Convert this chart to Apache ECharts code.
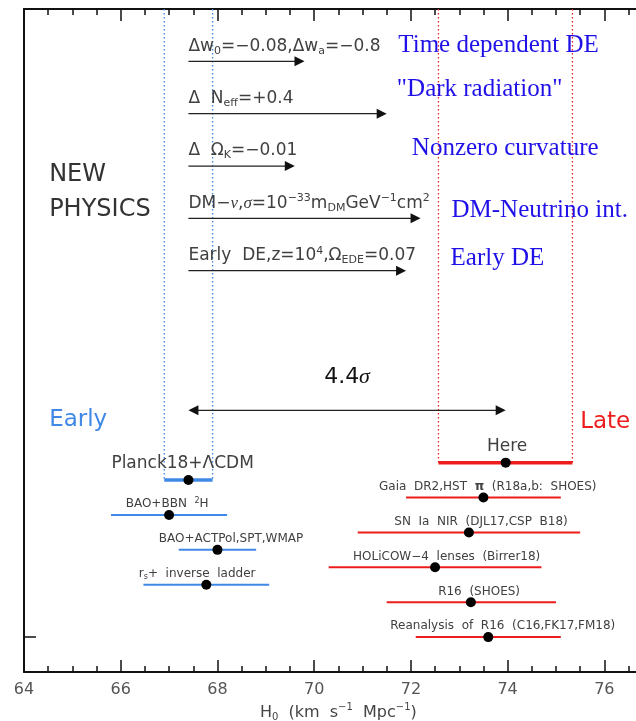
<!DOCTYPE html>
<html>
<head>
<meta charset="utf-8">
<script src="https://cdn.jsdelivr.net/npm/echarts@6/dist/echarts.min.js"></script>
<style>
  html, body { margin: 0; background: #fff; }
  #c { width: 636px; height: 721px; }
</style>
</head>
<body>
<div id="c"></div>
<script>
// early universe measurements (H0, error bar ends, row)
var earlyNames = ['Planck18+ΛCDM', 'BAO+BBN  {p|2}H', 'BAO+ACTPol,SPT,WMAP', 'r{s|s}+  inverse  ladder'];
var earlyH0 = [67.4, 67.0, 68.0, 67.77];
var earlyLo = [66.9, 65.8, 67.2, 66.47];
var earlyHi = [67.9, 68.2, 68.8, 69.07];
var earlyRow = [11, 9, 7, 5];

// late universe measurements
var lateNames = ['Here', 'Gaia  DR2,HST  {b|π}  (R18a,b:  SHOES)', 'SN  Ia  NIR  (DJL17,CSP  B18)',
  'HOLiCOW−4  lenses  (Birrer18)', 'R16  (SHOES)', 'Reanalysis  of  R16  (C16,FK17,FM18)'];
var lateH0 = [73.96, 73.5, 73.2, 72.5, 73.24, 73.6];
var lateLo = [72.57, 71.9, 70.9, 70.3, 71.5, 72.1];
var lateHi = [75.34, 75.1, 75.5, 74.7, 75.0, 75.1];
var lateRow = [12, 10, 8, 6, 4, 2];

// new physics shifts starting from Planck
var physicsFormula = [
  'Δw{s|0}=−0.08,Δw{s|a}=−0.8',
  'Δ  N{s|eff}=+0.4',
  'Δ  Ω{s|K}=−0.01',
  'DM−{i|ν},{i|σ}=10{p|−33}m{s|DM}GeV{p|−1}cm{p|2}',
  'Early  DE,z=10{p|4},Ω{s|EDE}=0.07'
];
var physicsNames = ['Time dependent DE', '"Dark radiation"', 'Nonzero curvature', 'DM-Neutrino int.', 'Early DE'];
var physicsH0 = [69.8, 71.5, 69.6, 72.2, 71.9];
var physicsRow = [35, 32, 29, 26, 23];

var tensionText = '4.4{i|σ}';
var tensionRow = 15;
var xTicks = [64, 66, 68, 70, 72, 74, 76];

// label placement (data coords)
var earlyLabelX = [67.28, 66.96, 68.28, 67.58];
var lateLabelX = [73.99, 73.59, 73.45, 72.74, 73.41, 73.9];
var nameAt = [[71.74, 35.93], [71.71, 33.39], [72.02, 30.01], [72.84, 26.44], [72.82, 23.71]];

var BLUE = '#3f88e6', RED = '#ee1c1c', INK = '#111', GRAY = '#404040';

var chart = echarts.init(document.getElementById('c'));

function rich(size) {
  var small = Math.round(size * 0.65);
  return {
    s: { fontSize: small, verticalAlign: 'bottom', lineHeight: size * 1.2 },
    p: { fontSize: small, verticalAlign: 'top', lineHeight: size * 1.2 },
    i: { fontSize: size, fontStyle: 'italic', fontFamily: 'Liberation Serif' },
    b: { fontSize: size, fontWeight: 'bold' }
  };
}

function note(text, x, y, size, color, left, family) {
  return {
    value: [x, y],
    label: {
      show: true,
      formatter: text,
      position: left ? 'right' : 'inside',
      distance: 0,
      fontSize: size,
      color: color,
      fontFamily: family || 'DejaVu Sans',
      rich: rich(size)
    }
  };
}

var notes = [];
earlyNames.forEach(function (t, i) {
  notes.push(note(t, earlyLabelX[i], earlyRow[i] + (i === 0 ? 0.92 : 0.63), i === 0 ? 17 : 12, GRAY));
});
lateNames.forEach(function (t, i) {
  notes.push(note(t, lateLabelX[i], lateRow[i] + (i === 0 ? 0.91 : 0.62), i === 0 ? 17 : 12, GRAY));
});
physicsFormula.forEach(function (t, i) {
  notes.push(note(t, earlyH0[0], physicsRow[i] + 0.87, 17, GRAY, true));
});
physicsNames.forEach(function (t, i) {
  notes.push(note(t, nameAt[i][0], nameAt[i][1], 25, '#1f10e8', true, 'Liberation Serif'));
});
notes.push(note('NEW', 64.52, 28.48, 24, '#333', true));
notes.push(note('PHYSICS', 64.52, 26.48, 24, '#333', true));
notes.push(note('Early', 64.52, 14.44, 23, BLUE, true));
notes.push(note('Late', 75.5, 14.34, 23, RED, true));
notes.push(note(tensionText, (earlyH0[0] + lateH0[0]) / 2, 16.9, 22, '#111'));

function barData(h0, lo, hi, row) {
  return h0.map(function (v, i) { return [v, lo[i], hi[i], row[i], i]; });
}

function barSeries(data, color) {
  return {
    type: 'custom',
    data: data,
    encode: { x: [1, 2], y: 3 },
    z: 3,
    renderItem: function (params, api) {
      var a = api.coord([api.value(1), api.value(3)]);
      var b = api.coord([api.value(2), api.value(3)]);
      return {
        type: 'line',
        shape: { x1: a[0], y1: a[1], x2: b[0], y2: b[1] },
        style: { stroke: color, lineWidth: api.value(4) === 0 ? 3.5 : 2 }
      };
    }
  };
}

// arrows: [start, end, row, doubleHeaded]
var arrowData = physicsH0.map(function (v, i) { return [earlyH0[0], v, physicsRow[i], 0]; });
arrowData.push([earlyH0[0], lateH0[0], tensionRow, 1]);

function head(tip, dir) {
  var L = 10, H = 5;
  return {
    type: 'polygon',
    shape: { points: [[tip[0], tip[1]], [tip[0] - dir * L, tip[1] - H], [tip[0] - dir * L, tip[1] + H]] },
    style: { fill: INK }
  };
}

// dotted guides: [x, rowFrom, rowTo, colour]
var guideData = [
  [earlyLo[0], 38, earlyRow[0], 0], [earlyHi[0], 38, earlyRow[0], 0],
  [lateLo[0], 38, lateRow[0], 1], [lateHi[0], 38, lateRow[0], 1]
];

var dots = earlyH0.map(function (v, i) { return [v, earlyRow[i]]; })
  .concat(lateH0.map(function (v, i) { return [v, lateRow[i]]; }));

function xAxisBase(pos, interval, len, main) {
  return {
    type: 'value', position: pos, min: 64, max: 77, interval: interval,
    axisLine: { show: main, onZero: false, lineStyle: { color: INK, width: 2 } },
    axisTick: { show: true, inside: true, length: len, lineStyle: { color: INK, width: 1.5 } },
    axisLabel: { show: false },
    splitLine: { show: false }
  };
}

var xMain = xAxisBase('bottom', 2, 12, true);
xMain.axisLabel = {
  show: true, margin: 10, color: '#555', fontSize: 16, fontFamily: 'DejaVu Sans',
  showMaxLabel: false,
  formatter: function (v) { return xTicks.indexOf(v) >= 0 ? String(v) : ''; }
};
xMain.name = 'H{s|0}  (km  s{p|−1}  Mpc{p|−1})';
xMain.nameLocation = 'middle';
xMain.nameGap = 29;
xMain.nameTextStyle = { color: '#444', fontSize: 16, fontFamily: 'DejaVu Sans', rich: rich(16) };

var option = {
  animation: false,
  backgroundColor: '#fff',
  grid: { left: 24, right: -16.7, top: 9, bottom: 49, outerBoundsMode: 'none', containLabel: false },
  xAxis: [
    xMain,
    xAxisBase('bottom', 0.5, 6, false),
    xAxisBase('top', 2, 12, true),
    xAxisBase('top', 0.5, 6, false)
  ],
  yAxis: {
    type: 'value', min: 0, max: 38,
    axisLine: { show: true, lineStyle: { color: INK, width: 2 } },
    axisTick: { show: true, inside: true, length: 12, customValues: [lateRow[5]], lineStyle: { color: INK, width: 1.5 } },
    axisLabel: { show: false },
    splitLine: { show: false }
  },
  series: [
    {
      type: 'custom',
      data: guideData,
      encode: { x: 0, y: [1, 2] },
      z: 1,
      renderItem: function (params, api) {
        var a = api.coord([api.value(0), api.value(1)]);
        var b = api.coord([api.value(0), api.value(2)]);
        return {
          type: 'line',
          shape: { x1: a[0], y1: a[1], x2: b[0], y2: b[1] },
          style: { stroke: api.value(3) === 0 ? BLUE : RED, lineWidth: 1.3, lineDash: [1.5, 2.5] }
        };
      }
    },
    barSeries(barData(earlyH0, earlyLo, earlyHi, earlyRow), BLUE),
    barSeries(barData(lateH0, lateLo, lateHi, lateRow), RED),
    {
      type: 'custom',
      data: arrowData,
      encode: { x: [0, 1], y: 2 },
      z: 3,
      renderItem: function (params, api) {
        var a = api.coord([api.value(0), api.value(2)]);
        var b = api.coord([api.value(1), api.value(2)]);
        var both = api.value(3) === 1;
        var kids = [
          { type: 'line', shape: { x1: both ? a[0] + 8 : a[0], y1: a[1], x2: b[0] - 8, y2: b[1] },
            style: { stroke: '#222', lineWidth: 1.2 } },
          head(b, 1)
        ];
        if (both) kids.push(head(a, -1));
        return { type: 'group', children: kids };
      }
    },
    {
      type: 'scatter',
      data: dots,
      symbolSize: 10,
      z: 5,
      itemStyle: { color: '#000', opacity: 1 },
      silent: true
    },
    {
      type: 'scatter',
      data: notes,
      symbolSize: 0,
      z: 6,
      itemStyle: { opacity: 1 },
      silent: true
    }
  ]
};

chart.setOption(option);
</script>
</body>
</html>
